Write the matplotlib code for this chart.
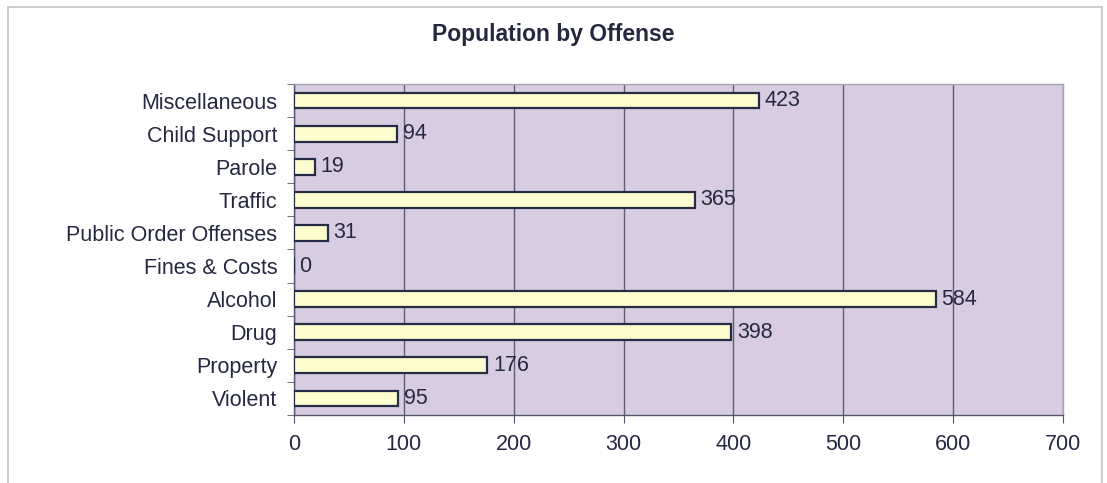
import matplotlib
matplotlib.use("Agg")
import matplotlib.pyplot as plt
from matplotlib.patches import Rectangle
import numpy as np

# data, bottom to top as in the chart
offenses = ["Violent", "Property", "Drug", "Alcohol", "Fines & Costs",
            "Public Order Offenses", "Traffic", "Parole", "Child Support", "Miscellaneous"]
population = [95, 176, 398, 584, 0, 31, 365, 19, 94, 423]
xticks = [0, 100, 200, 300, 400, 500, 600, 700]

TXT = "#262840"
FS = 15.5
plt.rcParams["font.family"] = ["Liberation Sans", "DejaVu Sans"]

fig = plt.figure(figsize=(11.07, 4.83), dpi=100)
# outer chart frame
fig.patches.append(Rectangle((8 / 1107, -0.05), 1094 / 1107, 1.05 - 7 / 483,
                             transform=fig.transFigure, fill=False,
                             edgecolor="#c4c4c8", lw=1.2))

ax = fig.add_axes([294 / 1107, 1 - 415 / 483, 769 / 1107, 331 / 483])
ax.set_facecolor("#d8cde0")

y = np.arange(len(offenses))
ax.barh(y, population, height=0.48, color="#fdfdcf", edgecolor="#262c48",
        lw=1.6, zorder=3)
for yi, v in zip(y, population):
    ax.annotate(f"{v}", (v, yi), xytext=(4, 0), textcoords="offset points",
                va="center", ha="left", fontsize=FS, color=TXT, zorder=4)

ax.set_xlim(0, 700)
ax.set_ylim(-0.5, len(offenses) - 0.5)
ax.set_xticks(xticks)
ax.set_xticklabels([str(t) for t in xticks], fontsize=FS, color=TXT)
ax.set_yticks(y)
ax.set_yticklabels(offenses, fontsize=FS, color=TXT)
ax.set_yticks(np.arange(len(offenses) + 1) - 0.5, minor=True)
ax.tick_params(axis="y", which="major", length=0, pad=12)
ax.tick_params(axis="y", which="minor", length=5, color="#55556a", direction="out")
ax.tick_params(axis="x", length=6, color="#55556a", direction="out", pad=8)
ax.grid(axis="x", color="#5e5c70", lw=1.0, zorder=1)

for s in ["left", "bottom"]:
    ax.spines[s].set_color("#55556a")
    ax.spines[s].set_linewidth(1.0)
for s in ["top", "right"]:
    ax.spines[s].set_color("#a8a4b4")
    ax.spines[s].set_linewidth(1.0)

fig.text(0.5, 1 - 34 / 483, "Population by Offense", ha="center", va="center",
         fontsize=16.5, fontweight="bold", color=TXT)

fig.savefig("out.png", dpi=100)
